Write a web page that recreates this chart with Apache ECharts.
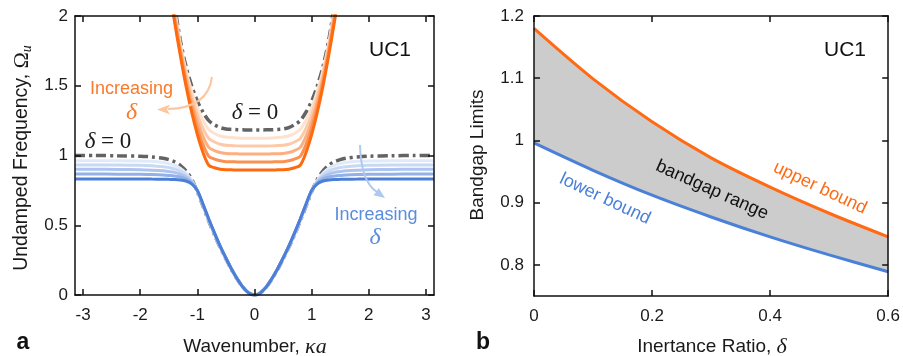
<!DOCTYPE html>
<html>
<head>
<meta charset="utf-8">
<script src="https://cdn.jsdelivr.net/npm/echarts@6/dist/echarts.min.js"></script>
<style>
html,body{margin:0;padding:0;background:#fff;}
#c{width:903px;height:356px;}
</style>
</head>
<body>
<div id="c"></div>
<script>
// ---------- Panel a: dispersion curves (kappa*a vs Omega_u) ----------
const KAPPA = [-3.1416,-2.8,-2.4,-2.0,-1.8,-1.6,-1.5,-1.4,-1.3,-1.2,-1.1,-1.0,-0.9,-0.8,-0.7,-0.6,-0.5,-0.4,-0.3,-0.2,-0.1,0,0.1,0.2,0.3,0.4,0.5,0.6,0.7,0.8,0.9,1.0,1.1,1.2,1.3,1.4,1.5,1.6,1.8,2.0,2.4,2.8,3.1416];

// lower (acoustic) band, delta = 0 (dash-dot) and increasing delta (light -> dark)
const LOWER_D0 = [1.0,1.0,0.998,0.995,0.99,0.98,0.97,0.955,0.93,0.89,0.83,0.74,0.635,0.53,0.43,0.34,0.258,0.18,0.112,0.054,0.015,0,0.015,0.054,0.112,0.18,0.258,0.34,0.43,0.53,0.635,0.74,0.83,0.89,0.93,0.955,0.97,0.98,0.99,0.995,0.998,1.0,1.0];
const LOWER_1 = [.963,.963,.963,.961,.958,.95,.942,.93,.909,.875,.823,.742,.638,.533,.433,.342,.259,.181,.113,.054,.015,0,.015,.054,.113,.181,.259,.342,.433,.533,.638,.742,.823,.875,.909,.93,.942,.95,.958,.961,.963,.963,.963];
const LOWER_2 = [.932,.932,.932,.93,.927,.92,.914,.904,.888,.861,.817,.744,.641,.536,.436,.344,.261,.182,.113,.055,.015,0,.015,.055,.113,.182,.261,.344,.436,.536,.641,.744,.817,.861,.888,.904,.914,.92,.927,.93,.932,.932,.932];
const LOWER_3 = [.901,.901,.9,.898,.895,.89,.885,.879,.867,.846,.81,.746,.644,.539,.439,.346,.262,.183,.114,.055,.015,0,.015,.055,.114,.183,.262,.346,.439,.539,.644,.746,.81,.846,.867,.879,.885,.89,.895,.898,.9,.901,.901];
const LOWER_4 = [.867,.867,.866,.865,.863,.86,.857,.853,.846,.832,.803,.748,.647,.542,.442,.348,.264,.184,.114,.055,.015,0,.015,.055,.114,.184,.264,.348,.442,.542,.647,.748,.803,.832,.846,.853,.857,.86,.863,.865,.866,.867,.867];
const LOWER_5 = [.832,.832,.832,.832,.831,.83,.829,.828,.825,.817,.797,.75,.65,.545,.445,.35,.265,.185,.115,.055,.015,0,.015,.055,.115,.185,.265,.35,.445,.545,.65,.75,.797,.817,.825,.828,.829,.83,.831,.832,.832,.832,.832];

// upper (optical) band
const UPPER_D0 = [4.4,4.3,4,3.5,3.1,2.6,2.35,2.08,1.83,1.64,1.5,1.39,1.31,1.25,1.22,1.2,1.19,1.187,1.185,1.184,1.183,1.183,1.183,1.184,1.185,1.187,1.19,1.2,1.22,1.25,1.31,1.39,1.5,1.64,1.83,2.08,2.35,2.6,3.1,3.5,4,4.3,4.4];
const UPPER_1 = [4.4,4.3,4,3.5,3.1,2.6,2.32,2.056,1.808,1.612,1.462,1.342,1.252,1.186,1.158,1.14,1.132,1.129,1.125,1.124,1.123,1.123,1.123,1.124,1.125,1.129,1.132,1.14,1.158,1.186,1.252,1.342,1.462,1.612,1.808,2.056,2.32,2.6,3.1,3.5,4,4.3,4.4];
const UPPER_2 = [4.38,4.28,3.98,3.48,3.08,2.58,2.3,2.032,1.786,1.584,1.424,1.294,1.194,1.122,1.097,1.081,1.073,1.071,1.069,1.068,1.068,1.068,1.068,1.068,1.069,1.071,1.073,1.081,1.097,1.122,1.194,1.294,1.424,1.584,1.786,2.032,2.3,2.58,3.08,3.48,3.98,4.28,4.38];
const UPPER_3 = [4.35,4.25,3.95,3.45,3.05,2.55,2.27,2.008,1.764,1.556,1.386,1.246,1.136,1.058,1.035,1.021,1.015,1.013,1.012,1.011,1.011,1.011,1.011,1.011,1.012,1.013,1.015,1.021,1.035,1.058,1.136,1.246,1.386,1.556,1.764,2.008,2.27,2.55,3.05,3.45,3.95,4.25,4.35];
const UPPER_4 = [4.32,4.22,3.92,3.42,3.02,2.52,2.25,1.984,1.742,1.528,1.348,1.198,1.078,.994,.974,.962,.956,.955,.954,.953,.953,.953,.953,.953,.954,.955,.956,.962,.974,.994,1.078,1.198,1.348,1.528,1.742,1.984,2.25,2.52,3.02,3.42,3.92,4.22,4.32];
const UPPER_5 = [4.3,4.2,3.9,3.4,3,2.5,2.22,1.96,1.72,1.5,1.31,1.15,1.02,.93,.912,.902,.898,.897,.896,.896,.896,.896,.896,.896,.896,.897,.898,.902,.912,.93,1.02,1.15,1.31,1.5,1.72,1.96,2.22,2.5,3,3.4,3.9,4.2,4.3];

const XTICKS_A = [-3,-2,-1,0,1,2,3];
const YTICKS_A = [0,0.5,1,1.5,2];

// ---------- Panel b: bandgap limits vs inertance ratio ----------
const DELTA = [0, 0.1, 0.2, 0.3, 0.4, 0.5, 0.6];
const UPPER_BOUND = [1.18, 1.099, 1.03, 0.972, 0.925, 0.883, 0.845];
const LOWER_BOUND = [0.996, 0.952, 0.912, 0.877, 0.845, 0.816, 0.789];
const XTICKS_B = [0, 0.2, 0.4, 0.6];
const YTICKS_B = [0.8, 0.9, 1, 1.1, 1.2];

const BLUES = ['#E1EAF9','#C8D9F4','#ADC5EE','#92B1E8','#4C7FD7'];
const ORANGES = ['#FDE2CF','#FCCAA8','#FCB081','#FB9150','#FF6A0E'];
const SANS = 'Liberation Sans, Arial, sans-serif';
const SERIF = 'Liberation Serif, DejaVu Serif, serif';
const SMOOTH = 0.3;

function pairs(xs, ys){ return xs.map((x,i)=>[x, ys[i]]); }

const chart = echarts.init(document.getElementById('c'), null, {renderer:'canvas'});

const frame = {show:true, onZero:false, lineStyle:{color:'#111', width:1.5}};
const tickIn = (vals)=>({show:true, inside:true, length:6, customValues:vals, lineStyle:{color:'#111', width:1.5}});
const lab = (vals, margin)=>({show:true, customValues:vals, fontSize:17, color:'#1a1a1a', fontFamily:SANS, margin:margin});
const noLab = {show:false};

function lineSeries(name, xs, ys, color, xi, yi, z, dashed){
  return {
    type:'line', name:name, data:pairs(xs, ys), xAxisIndex:xi, yAxisIndex:yi,
    showSymbol:false, symbol:'none', smooth:SMOOTH, clip:true, z:z,
    lineStyle: dashed ? {color:'#636363', width:3.5, type:[10,4,3,4], cap:'butt'} : {color:color, width:3},
    silent:true
  };
}

const series = [];
series.push(lineSeries('lower δ=0', KAPPA, LOWER_D0, null, 0, 0, 2, true));
series.push(lineSeries('upper δ=0', KAPPA, UPPER_D0, null, 0, 0, 2, true));
[LOWER_1, LOWER_2, LOWER_3, LOWER_4, LOWER_5].forEach((arr,i)=>series.push(lineSeries('lower '+(i+1), KAPPA, arr, BLUES[i], 0, 0, 3+i, false)));
[UPPER_1, UPPER_2, UPPER_3, UPPER_4, UPPER_5].forEach((arr,i)=>series.push(lineSeries('upper '+(i+1), KAPPA, arr, ORANGES[i], 0, 0, 3+i, false)));

// panel b: gray band = area under upper bound, masked by white area under lower bound
series.push({type:'line', name:'bandgap fill', data:pairs(DELTA, UPPER_BOUND), xAxisIndex:2, yAxisIndex:2,
  showSymbol:false, symbol:'none', smooth:SMOOTH, lineStyle:{opacity:0}, areaStyle:{color:'#cccccc', opacity:1, origin:'start'}, z:1, silent:true});
series.push({type:'line', name:'below mask', data:pairs(DELTA, LOWER_BOUND), xAxisIndex:2, yAxisIndex:2,
  showSymbol:false, symbol:'none', smooth:SMOOTH, lineStyle:{opacity:0}, areaStyle:{color:'#ffffff', opacity:1, origin:'start'}, z:1.5, silent:true});
series.push({type:'line', name:'lower bound', data:pairs(DELTA, LOWER_BOUND), xAxisIndex:2, yAxisIndex:2,
  showSymbol:false, symbol:'none', smooth:SMOOTH, lineStyle:{color:'#4A80D8', width:3}, z:3, silent:true});
series.push({type:'line', name:'upper bound', data:pairs(DELTA, UPPER_BOUND), xAxisIndex:2, yAxisIndex:2,
  showSymbol:false, symbol:'none', smooth:SMOOTH, lineStyle:{color:'#FF6A13', width:3}, z:3, silent:true});

function txt(x, y, text, opts){
  return Object.assign({type:'text', x:x, y:y, z:20, silent:true,
    style:Object.assign({text:text, fill:'#1a1a1a', font:'19px '+SANS, align:'center', verticalAlign:'middle'}, opts && opts.style || {})},
    opts && opts.el || {});
}
const deltaZeroRich = {
  i:{fontFamily:SERIF, fontStyle:'italic', fontSize:23, fill:'#1a1a1a'},
  n:{fontFamily:SERIF, fontSize:23, fill:'#1a1a1a'}
};

const graphic = [
  // panel a texts
  txt(390, 50, 'UC1', {style:{font:'21px '+SANS, fill:'#111'}}),
  txt(131.5, 89, 'Increasing', {style:{font:'18px '+SANS, fill:'#F97A2B'}}),
  txt(131.5, 113, 'δ', {style:{font:'italic 24px '+SERIF, fill:'#F97A2B'}}),
  txt(376, 215, 'Increasing', {style:{font:'18px '+SANS, fill:'#5B8DDE'}}),
  txt(375, 238, 'δ', {style:{font:'italic 24px '+SERIF, fill:'#5B8DDE'}}),
  txt(255, 113, '{i|δ}{n| = 0}', {style:{rich:deltaZeroRich, font:'23px '+SERIF}}),
  txt(108, 142, '{i|δ}{n| = 0}', {style:{rich:deltaZeroRich, font:'23px '+SERIF}}),
  txt(23, 343, 'a', {style:{font:'bold 23px '+SANS, fill:'#111'}}),
  txt(255, 347, '{t|Wavenumber, }{m|κa}', {style:{rich:{
      t:{fontFamily:SANS, fontSize:19, fill:'#1a1a1a'},
      m:{fontFamily:SERIF, fontStyle:'italic', fontSize:22, fill:'#1a1a1a'}}}}),
  txt(22, 158, '{t|Undamped Frequency, }{m|Ω}{s|u}', {el:{rotation:Math.PI/2}, style:{rich:{
      t:{fontFamily:SANS, fontSize:19.5, fill:'#1a1a1a'},
      m:{fontFamily:SERIF, fontSize:22, fill:'#1a1a1a'},
      s:{fontFamily:SERIF, fontStyle:'italic', fontSize:14, fill:'#1a1a1a', padding:[10,0,0,0]}}}}),
  // arrows
  {type:'bezierCurve', z:15, silent:true, shape:{x1:212, y1:77, cpx1:208, cpy1:108, x2:168, y2:109},
    style:{stroke:'#FCC6A0', lineWidth:2, fill:null}},
  {type:'polygon', z:15, silent:true, shape:{points:[[157,109.5],[170,104.5],[167,109.5],[170,114.5]]}, style:{fill:'#FCC6A0'}},
  {type:'bezierCurve', z:15, silent:true, shape:{x1:360, y1:145, cpx1:361, cpy1:182, x2:377, y2:192},
    style:{stroke:'#AFC8EE', lineWidth:2, fill:null}},
  {type:'polygon', z:15, silent:true, shape:{points:[[385,198],[373.5,195.2],[376.5,191.5],[378.7,188]]}, style:{fill:'#AFC8EE'}},

  // panel b texts
  txt(845, 50, 'UC1', {style:{font:'21px '+SANS, fill:'#111'}}),
  txt(820, 188, 'upper bound', {el:{rotation:-0.44}, style:{font:'18px '+SANS, fill:'#FF6A13'}}),
  txt(605, 199, 'lower bound', {el:{rotation:-0.44}, style:{font:'18px '+SANS, fill:'#4A80D8'}}),
  txt(712, 190, 'bandgap range', {el:{rotation:-0.42}, style:{font:'18px '+SANS, fill:'#111'}}),
  txt(483, 343, 'b', {style:{font:'bold 23px '+SANS, fill:'#111'}}),
  txt(712, 347, '{t|Inertance Ratio, }{m|δ}', {style:{rich:{
      t:{fontFamily:SANS, fontSize:19, fill:'#1a1a1a'},
      m:{fontFamily:SERIF, fontStyle:'italic', fontSize:22, fill:'#1a1a1a'}}}}),
  txt(478, 155, 'Bandgap Limits', {el:{rotation:Math.PI/2}, style:{font:'19px '+SANS}})
];

const option = {
  animation:false,
  backgroundColor:'#fff',
  grid:[
    {left:75, top:16, width:359, height:279, containLabel:false},
    {left:534, top:16, width:357, height:280, containLabel:false}
  ],
  xAxis:[
    {type:'value', gridIndex:0, position:'bottom', min:-Math.PI, max:Math.PI, axisLine:frame, axisTick:tickIn(XTICKS_A), axisLabel:lab(XTICKS_A, 12), splitLine:{show:false}, z:10},
    {type:'value', gridIndex:0, position:'top', min:-Math.PI, max:Math.PI, axisLine:frame, axisTick:tickIn(XTICKS_A), axisLabel:noLab, splitLine:{show:false}, z:10},
    {type:'value', gridIndex:1, position:'bottom', min:0, max:0.6, axisLine:frame, axisTick:tickIn(XTICKS_B), axisLabel:lab(XTICKS_B, 12), splitLine:{show:false}, z:10},
    {type:'value', gridIndex:1, position:'top', min:0, max:0.6, axisLine:frame, axisTick:tickIn(XTICKS_B), axisLabel:noLab, splitLine:{show:false}, z:10}
  ],
  yAxis:[
    {type:'value', gridIndex:0, position:'left', min:0, max:2, axisLine:frame, axisTick:tickIn(YTICKS_A), axisLabel:lab(YTICKS_A, 7), splitLine:{show:false}, z:10},
    {type:'value', gridIndex:0, position:'right', min:0, max:2, axisLine:frame, axisTick:tickIn(YTICKS_A), axisLabel:noLab, splitLine:{show:false}, z:10},
    {type:'value', gridIndex:1, position:'left', min:0.75, max:1.2, axisLine:frame, axisTick:tickIn(YTICKS_B), axisLabel:lab(YTICKS_B, 10), splitLine:{show:false}, z:10},
    {type:'value', gridIndex:1, position:'right', min:0.75, max:1.2, axisLine:frame, axisTick:tickIn(YTICKS_B), axisLabel:noLab, splitLine:{show:false}, z:10}
  ],
  series:series,
  graphic:graphic
};
chart.setOption(option);
</script>
</body>
</html>
